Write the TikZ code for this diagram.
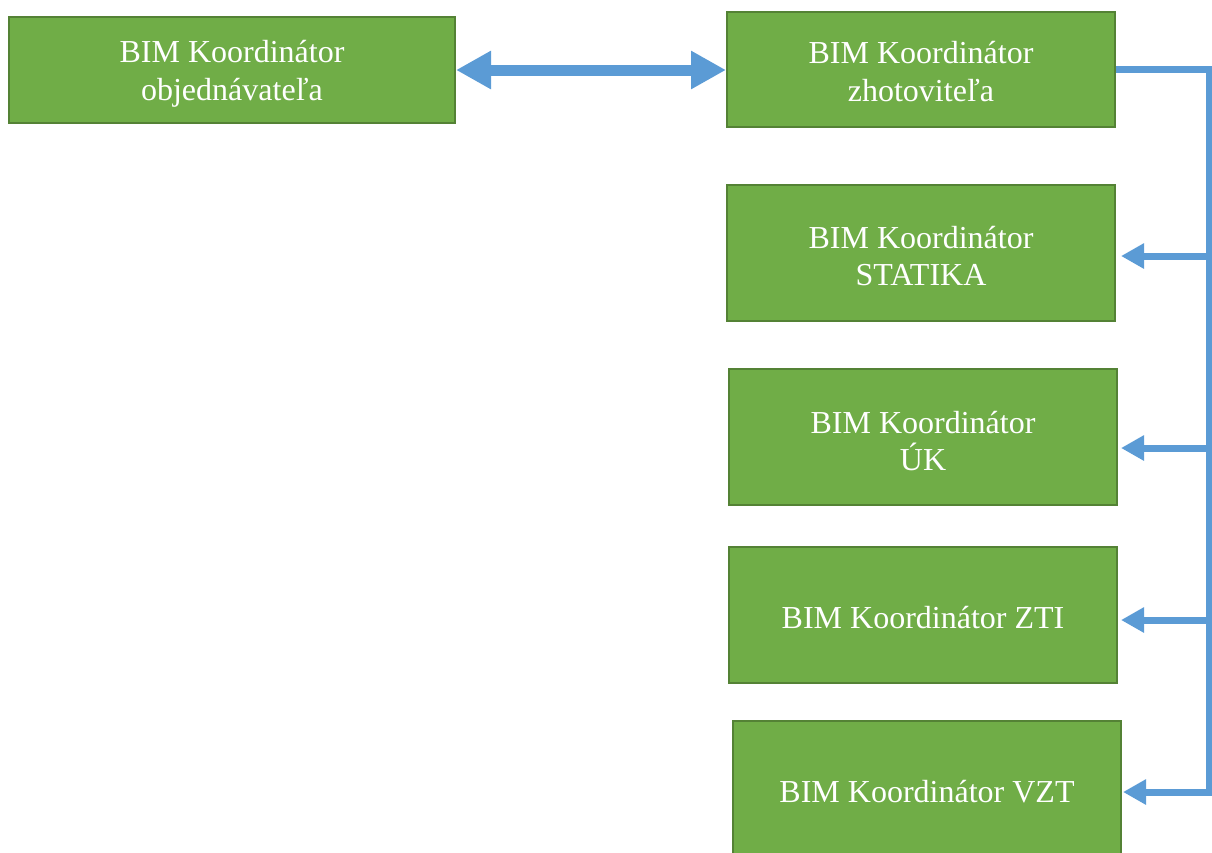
\documentclass[tikz,border=0pt]{standalone}
\usepackage{fontspec}
\setmainfont{Liberation Serif}
\usetikzlibrary{arrows.meta}
\definecolor{boxfill}{HTML}{70AD47}
\definecolor{boxline}{HTML}{548235}
\definecolor{conn}{HTML}{5B9BD5}
\tikzset{
  role/.style={draw=boxline, line width=2pt, fill=boxfill,
    minimum width=388pt, minimum height=136pt, inner sep=0pt},
  lbl/.style={text=white, inner sep=0pt, align=center,
    font=\fontsize{32}{37.5}\selectfont},
  link/.style={draw=conn, line width=7pt, line join=miter},
  feed/.style={draw=conn, line width=7pt, -{Triangle[length=23pt,width=24pt]}},
  both/.style={draw=conn, line width=11pt, {Triangle[length=35pt,width=36pt]}-{Triangle[length=35pt,width=36pt]}}
}
\begin{document}
\begin{tikzpicture}[x=1pt,y=-1pt]
\useasboundingbox (0,0) rectangle (1212,852);
\clip (0,0) rectangle (1212,852);
\node[role, minimum width=446pt, minimum height=106pt] (b1) at (232,70) {};
\node[role, minimum height=115pt] (b2) at (921,69.5) {};
\node[role] (b3) at (921,253) {};
\node[role] (b4) at (923,437) {};
\node[role] (b5) at (923,615) {};
\node[role] (b6) at (927,789) {};
\node[lbl] (t1) at ([yshift=-4pt]b1.center) {BIM Koordinátor\\objednávateľa};
\node[lbl] (t2) at ([yshift=-2pt]b2.center) {BIM Koordinátor\\zhotoviteľa};
\node[lbl] (t3) at ([yshift=-3pt]b3.center) {BIM Koordinátor\\STATIKA};
\node[lbl] (t4) at ([yshift=-4pt]b4.center) {BIM Koordinátor\\ÚK};
\node[lbl] (t5) at ([yshift=-3pt]b5.center) {BIM Koordinátor ZTI};
\node[lbl] (t6) at ([yshift=-3pt]b6.center) {BIM Koordinátor VZT};
\coordinate (c0) at (1209,69.5);
\coordinate (c1) at (1209,256);
\coordinate (c2) at (1209,448);
\coordinate (c3) at (1209,620);
\coordinate (c4) at (1209,792);
\coordinate (c4e) at (1209,795.5);
\draw[link] (b2.east) -- (c0) -- (c4e);
\draw[feed] (c1) -- ([xshift=5pt]b3.east |- c1);
\draw[feed] (c2) -- ([xshift=3pt]b4.east |- c2);
\draw[feed] (c3) -- ([xshift=3pt]b5.east |- c3);
\draw[feed] ([xshift=3.5pt]c4) -- ([xshift=1pt]b6.east |- c4);
\draw[both] (b1.east) -- (b2.west |- b1.east);
\end{tikzpicture}
\end{document}
